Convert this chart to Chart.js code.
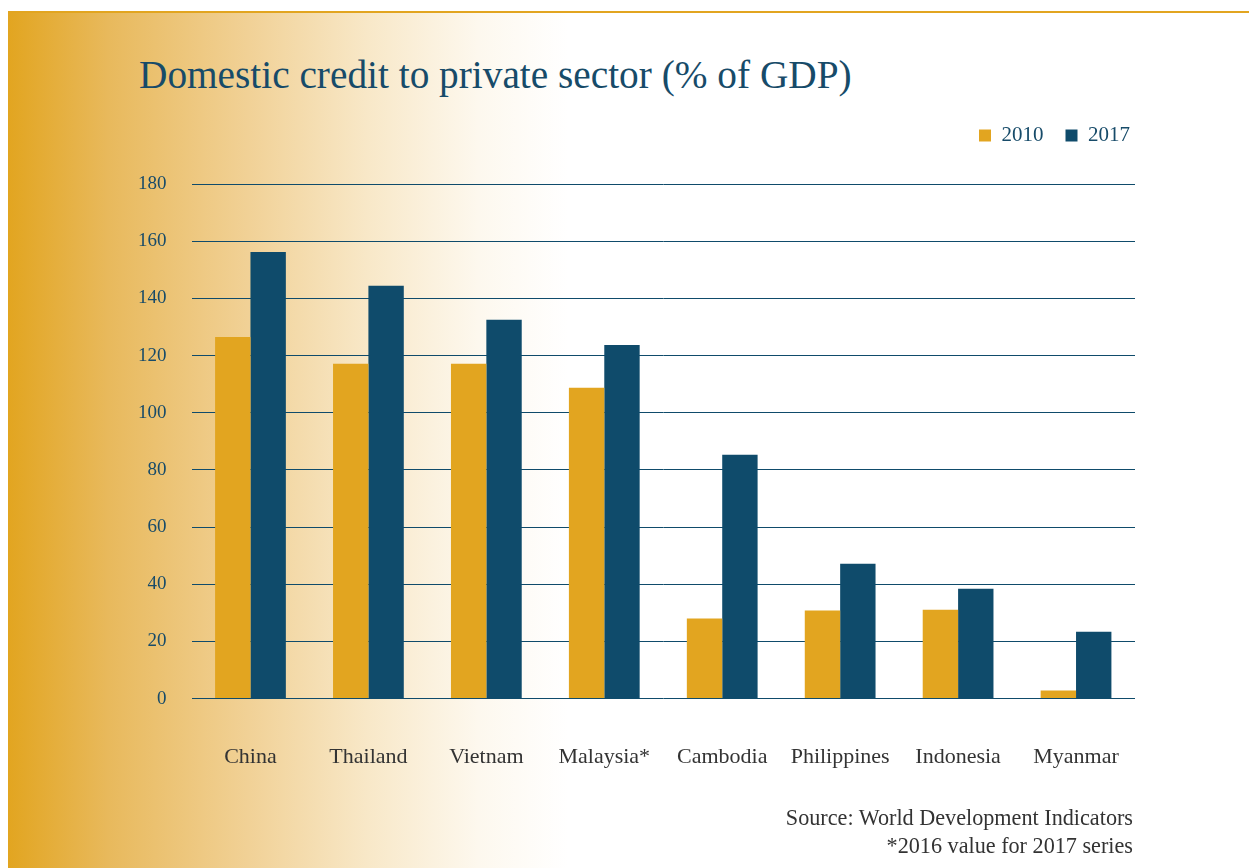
<!DOCTYPE html>
<html>
<head>
<meta charset="utf-8">
<script src="https://cdn.jsdelivr.net/npm/chart.js@4"></script>
<style>
  html, body { margin: 0; padding: 0; background: #ffffff; width: 1249px; height: 868px; overflow: hidden; }
  #panel {
    position: absolute; left: 8px; top: 11px; width: 1241px; height: 857px;
    border-top: 2px solid #e2a520;
    background: linear-gradient(to right, #e2a520 0px, #e8b95c 100px, #f1d196 240px, #f8e8c8 360px, #fdf8ee 470px, #ffffff 560px);
  }
  #title {
    position: absolute; left: 139px; top: 52px; margin: 0;
    font-family: "Liberation Serif", serif; font-weight: normal; font-size: 39.3px;
    color: #174b69; white-space: nowrap;
  }
  #source {
    position: absolute; right: 116px; top: 804px; text-align: right;
    font-family: "Liberation Serif", serif; font-size: 22.2px; line-height: 28px; color: #333333;
  }
  #wrap { position: absolute; left: 0; top: 0; width: 1249px; height: 868px; }
</style>
</head>
<body>
<div id="panel"></div>
<h1 id="title">Domestic credit to private sector (% of GDP)</h1>
<div id="wrap"><canvas id="c" width="1249" height="868"></canvas></div>
<div id="source">Source: World Development Indicators<br>*2016 value for 2017 series</div>
<script>
const categories = ["China", "Thailand", "Vietnam", "Malaysia*", "Cambodia", "Philippines", "Indonesia", "Myanmar"];
const values2010 = [126.5, 117.1, 117.1, 108.7, 28.0, 30.8, 31.1, 2.8];
const values2017 = [156.2, 144.4, 132.5, 123.7, 85.3, 47.2, 38.4, 23.4];
const seriesLabels = ["2010", "2017"];
const yMin = 0, yMax = 180, yStep = 20;

const GOLD = "#e2a520";
const NAVY = "#0f4b6b";
const SERIF = "'Liberation Serif', serif";

new Chart(document.getElementById("c"), {
  type: "bar",
  data: {
    labels: categories,
    datasets: [
      { label: seriesLabels[0], data: values2010, backgroundColor: GOLD, borderWidth: 0 },
      { label: seriesLabels[1], data: values2017, backgroundColor: NAVY, borderWidth: 0 }
    ]
  },
  options: {
    responsive: false,
    animation: false,
    devicePixelRatio: 1,
    layout: { padding: { left: 113, right: 97, top: 103, bottom: 53 } },
    datasets: { bar: { categoryPercentage: 0.6, barPercentage: 1.0 } },
    plugins: {
      legend: {
        position: "top",
        align: "end",
        labels: {
          boxWidth: 12, boxHeight: 12, padding: 22,
          color: "#174b69",
          font: { family: SERIF, size: 21 }
        }
      },
      title: { display: false },
      tooltip: { enabled: false }
    },
    scales: {
      x: {
        grid: { display: false, drawTicks: false },
        border: { display: false },
        ticks: { color: "#333333", font: { family: SERIF, size: 22 }, padding: 45 }
      },
      y: {
        min: yMin, max: yMax,
        grid: { color: NAVY, lineWidth: 1, drawTicks: false },
        border: { display: false },
        ticks: { stepSize: yStep, color: "#174b69", font: { family: SERIF, size: 19 }, padding: 25 }
      },
      spacerTop: {
        type: "linear", axis: "x", position: "top",
        grid: { display: false, drawTicks: false },
        border: { display: false },
        ticks: { display: false },
        afterFit: (s) => { s.height = 28; }
      },
      spacerRight: {
        type: "linear", axis: "y", position: "right",
        grid: { display: false, drawTicks: false },
        border: { display: false },
        ticks: { display: false },
        afterFit: (s) => { s.width = 17; }
      }
    }
  }
});
</script>
</body>
</html>
